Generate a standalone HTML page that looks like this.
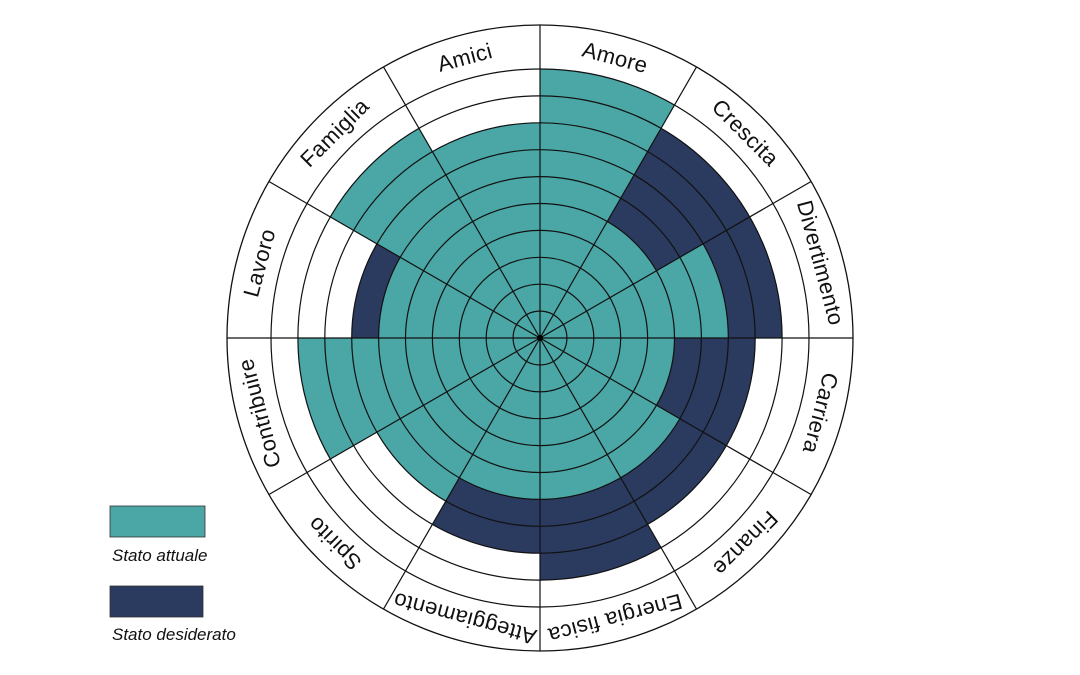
<!DOCTYPE html>
<html><head><meta charset="utf-8"><style>
html,body{margin:0;padding:0;background:#fff;width:1080px;height:675px;overflow:hidden}
svg{display:block}
text{font-family:"Liberation Sans",sans-serif}
</style></head><body>
<svg id="s" width="1080" height="675" viewBox="0 0 1080 675" xmlns="http://www.w3.org/2000/svg">
<g id="g"></g>
<g font-size="22" fill="#111" text-anchor="middle" letter-spacing="0.4">
<text x="540" y="55" transform="rotate(15 540 338)">Amore</text>
<text x="540" y="55" transform="rotate(45 540 338)">Crescita</text>
<text x="540" y="55" transform="rotate(75 540 338)">Divertimento</text>
<text x="540" y="55" transform="rotate(105 540 338)">Carriera</text>
<text x="540" y="55" transform="rotate(135 540 338)">Finanze</text>
<text x="540" y="55" transform="rotate(165 540 338)">Energia fisica</text>
<text x="540" y="55" transform="rotate(195 540 338)">Atteggiamento</text>
<text x="540" y="55" transform="rotate(225 540 338)">Spirito</text>
<text x="540" y="55" transform="rotate(255 540 338)">Contribuire</text>
<text x="540" y="55" transform="rotate(285 540 338)">Lavoro</text>
<text x="540" y="55" transform="rotate(315 540 338)">Famiglia</text>
<text x="540" y="55" transform="rotate(345 540 338)">Amici</text>
</g>
<rect x="110" y="506" width="95" height="31" fill="#4aa7a5" stroke="#333" stroke-width="0.8"/>
<text x="112" y="561" font-size="17" font-style="italic" fill="#111">Stato attuale</text>
<rect x="110" y="586" width="93" height="31" fill="#2b3a5f" stroke="#333" stroke-width="0.8"/>
<text x="112" y="640" font-size="17" font-style="italic" fill="#111">Stato desiderato</text>
</svg>
<script>
var cx=540,cy=338,st=26.9,R=313;
var teal=[10,5,7,5,6,6,6,7,9,6,9,8];
var dark=[0,9,9,8,8,9,8,0,0,7,0,0];
function pt(r,a){var t=(a-90)*Math.PI/180;return [cx+r*Math.cos(t),cy+r*Math.sin(t)];}
function wedge(r,a1,a2,c){var p1=pt(r,a1),p2=pt(r,a2);return '<path d="M'+cx+' '+cy+' L'+p1[0]+' '+p1[1]+' A'+r+' '+r+' 0 0 1 '+p2[0]+' '+p2[1]+' Z" fill="'+c+'"/>';}
var h='';
for(var i=0;i<12;i++){var a=i*30;
 if(dark[i])h+=wedge(dark[i]*st,a,a+30,'#2b3a5f');
 h+=wedge(teal[i]*st,a,a+30,'#4aa7a5');}
for(var k=1;k<=10;k++)h+='<circle cx="'+cx+'" cy="'+cy+'" r="'+(k*st)+'" fill="none" stroke="#111" stroke-width="1.2"/>';
h+='<circle cx="'+cx+'" cy="'+cy+'" r="'+R+'" fill="none" stroke="#111" stroke-width="1.3"/>';
for(var i=0;i<12;i++){var p=pt(R,i*30);h+='<line x1="'+cx+'" y1="'+cy+'" x2="'+p[0]+'" y2="'+p[1]+'" stroke="#111" stroke-width="1.2"/>';}
h+='<circle cx="'+cx+'" cy="'+cy+'" r="3" fill="#000"/>';
document.getElementById('g').innerHTML=h;
</script>
</body></html>
